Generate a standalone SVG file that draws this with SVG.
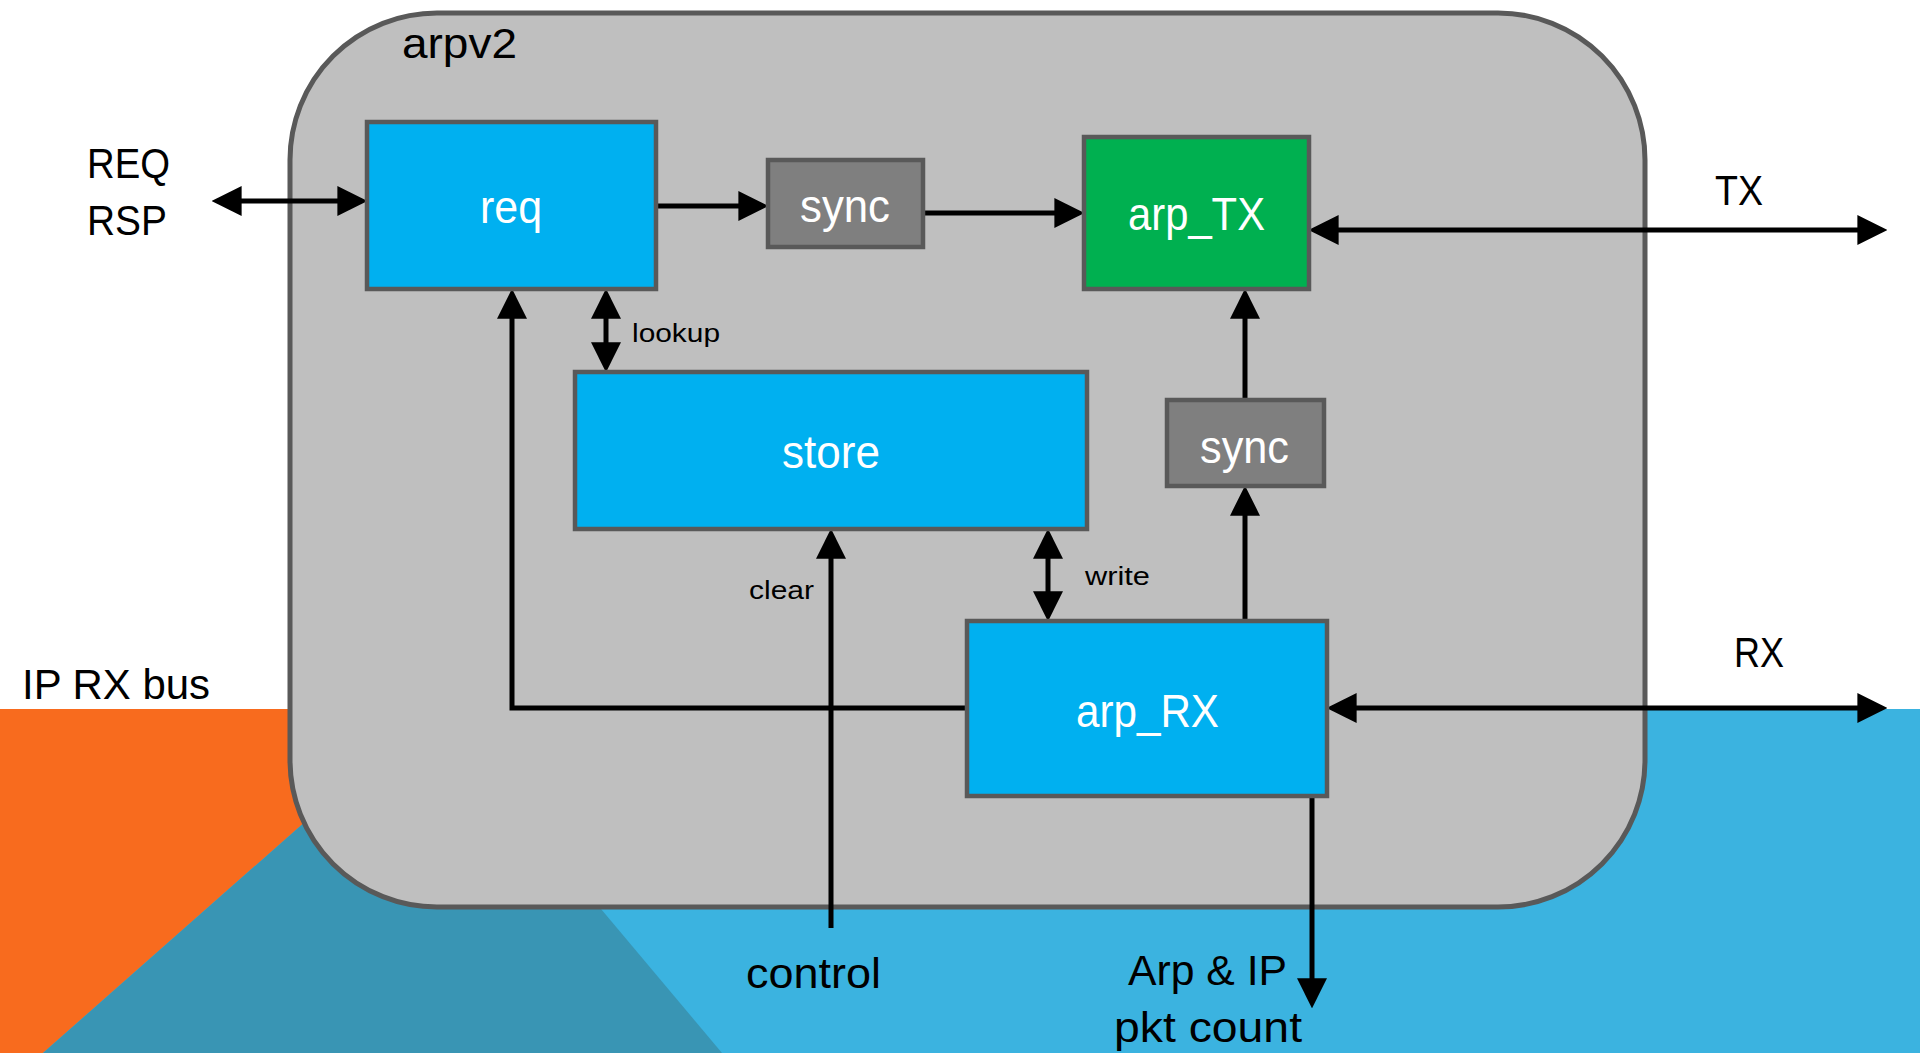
<svg xmlns="http://www.w3.org/2000/svg" width="1920" height="1053" viewBox="0 0 1920 1053">
  <style>
    text { font-family: "Liberation Sans", Arial, sans-serif; }
    .box { stroke: #595959; stroke-width: 4.5; }
    .blue { fill: #00B0F0; }
    .green { fill: #00B050; }
    .grey { fill: #7F7F7F; }
    .boxlabel { fill: #FFFFFF; font-size: 46px; text-anchor: start; }
    .label { fill: #000000; font-size: 43px; }
    .small { fill: #000000; font-size: 26px; }
    .wire { fill: none; stroke: #000000; stroke-width: 5; }
  </style>
  <defs>
    <marker id="head" markerUnits="userSpaceOnUse" markerWidth="30" markerHeight="30" viewBox="0 0 29 29" refX="19" refY="14.5" orient="auto-start-reverse">
      <path d="M0,0 L29,14.5 L0,29 z" fill="#000000"/>
    </marker>
  </defs>

  <!-- background bands -->
  <rect x="0" y="0" width="1920" height="1053" fill="#FFFFFF"/>
  <rect x="0" y="709" width="1920" height="344" fill="#3BB3E0"/>
  <polygon points="0,709 433,709 43,1053 0,1053" fill="#F86B1E"/>
  <polygon points="43,1053 433,709 722,1053" fill="#3995B4"/>

  <!-- module outline -->
  <g id="arpv2">
    <rect x="290" y="13" width="1355" height="894" rx="147" ry="147" fill="#BFBFBF" stroke="#595959" stroke-width="5"/>
    <text class="label" x="402" y="58" textLength="115" lengthAdjust="spacingAndGlyphs">arpv2</text>
  </g>

  <!-- connectors -->
  <g id="connectors">
    <path class="wire" d="M222,201 H357" marker-start="url(#head)" marker-end="url(#head)"/>
    <path class="wire" d="M656,206 H758" marker-end="url(#head)"/>
    <path class="wire" d="M923,213 H1074" marker-end="url(#head)"/>
    <path class="wire" d="M1319,230 H1877" marker-start="url(#head)" marker-end="url(#head)"/>
    <path class="wire" d="M1337,708 H1877" marker-start="url(#head)" marker-end="url(#head)"/>
    <path class="wire" d="M606,299 V362" marker-start="url(#head)" marker-end="url(#head)"/>
    <path class="wire" d="M1048,539 V611" marker-start="url(#head)" marker-end="url(#head)"/>
    <path class="wire" d="M831,928 V539" marker-end="url(#head)"/>
    <path class="wire" d="M967,708 H512 V299" marker-end="url(#head)"/>
    <path class="wire" d="M1245,621 V496" marker-end="url(#head)"/>
    <path class="wire" d="M1245,400 V299" marker-end="url(#head)"/>
    <path class="wire" d="M1312,796 V998" marker-end="url(#head)"/>
  </g>

  <!-- blocks -->
  <g id="req">
    <rect class="box blue" x="367" y="122" width="289" height="167"/>
    <text class="boxlabel" x="480" y="223" textLength="62" lengthAdjust="spacingAndGlyphs">req</text>
  </g>
  <g id="sync_tx">
    <rect class="box grey" x="768" y="160" width="155" height="87"/>
    <text class="boxlabel" x="800" y="222" textLength="90" lengthAdjust="spacingAndGlyphs">sync</text>
  </g>
  <g id="arp_TX">
    <rect class="box green" x="1084" y="137" width="225" height="152"/>
    <text class="boxlabel" x="1128" y="230" textLength="137" lengthAdjust="spacingAndGlyphs">arp_TX</text>
  </g>
  <g id="store">
    <rect class="box blue" x="575" y="372" width="512" height="157"/>
    <text class="boxlabel" x="782" y="468" textLength="98" lengthAdjust="spacingAndGlyphs">store</text>
  </g>
  <g id="sync_rx">
    <rect class="box grey" x="1167" y="400" width="157" height="86"/>
    <text class="boxlabel" x="1200" y="463" textLength="89" lengthAdjust="spacingAndGlyphs">sync</text>
  </g>
  <g id="arp_RX">
    <rect class="box blue" x="967" y="621" width="360" height="175"/>
    <text class="boxlabel" x="1076" y="727" textLength="143" lengthAdjust="spacingAndGlyphs">arp_RX</text>
  </g>

  <!-- port and signal labels -->
  <g id="labels">
    <text class="label" x="87" y="178" textLength="83" lengthAdjust="spacingAndGlyphs">REQ</text>
    <text class="label" x="87" y="235" textLength="80" lengthAdjust="spacingAndGlyphs">RSP</text>
    <text class="small" x="632" y="342" textLength="88" lengthAdjust="spacingAndGlyphs">lookup</text>
    <text class="small" x="1085" y="585" textLength="65" lengthAdjust="spacingAndGlyphs">write</text>
    <text class="small" x="749" y="599" textLength="65" lengthAdjust="spacingAndGlyphs">clear</text>
    <text class="label" x="1715" y="205" textLength="48" lengthAdjust="spacingAndGlyphs">TX</text>
    <text class="label" x="1734" y="667" textLength="50" lengthAdjust="spacingAndGlyphs">RX</text>
    <text class="label" x="22" y="699" textLength="188" lengthAdjust="spacingAndGlyphs">IP RX bus</text>
    <text class="label" x="746" y="988" textLength="135" lengthAdjust="spacingAndGlyphs">control</text>
    <text class="label" x="1128" y="985" textLength="159" lengthAdjust="spacingAndGlyphs">Arp &amp; IP</text>
    <text class="label" x="1114" y="1042" textLength="188" lengthAdjust="spacingAndGlyphs">pkt count</text>
  </g>
</svg>
